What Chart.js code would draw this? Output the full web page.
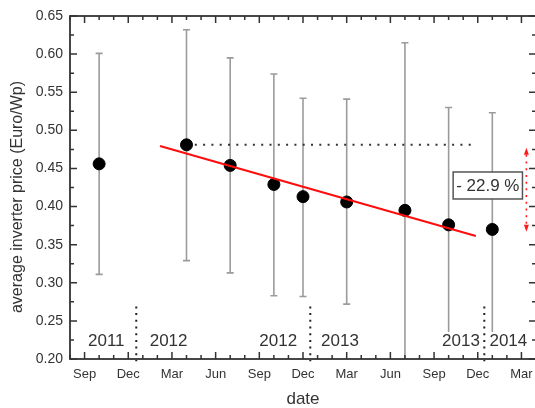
<!DOCTYPE html>
<html>
<head>
<meta charset="utf-8">
<script src="https://cdn.jsdelivr.net/npm/chart.js@4.4.0/dist/chart.umd.min.js"></script>
<style>
  html, body { margin: 0; padding: 0; background: #fff; overflow: hidden; width: 535px; height: 408px; }
  canvas { display: block; }
</style>
</head>
<body>
<canvas id="c" width="538" height="408"></canvas>
<script>
// ---- data (x = months counted from Jan 2011 = 0) ----
const monthNames = ['Jan','Feb','Mar','Apr','May','Jun','Jul','Aug','Sep','Oct','Nov','Dec'];
const labelledMonths = ['Sep','Dec','Mar','Jun'];
const months   = [9, 15, 18, 21, 23, 26, 30, 33, 36];
const price    = [0.456, 0.481, 0.454, 0.429, 0.413, 0.406, 0.395, 0.376, 0.370];
const errHigh  = [0.601, 0.632, 0.595, 0.574, 0.542, 0.541, 0.615, 0.530, 0.523];
const errLow   = [0.311, 0.329, 0.313, 0.283, 0.282, 0.272, 0.170, 0.222, 0.222];
const fitMonths = [13.18, 34.87];
const fitPrice  = [0.4795, 0.3614];
const refMonths = [15, 34.57];
const refPrice  = 0.481;
const yearBreaks = [11.55, 23.5, 35.45];
const breakRange = [0.269, 0.197];
const yearLabels = ['2011', '2012', '2012', '2013', '2013', '2014'];
const yearLabelMonths = [9.49, 13.77, 21.3, 25.54, 33.85, 37.1];
const yearLabelPrice = 0.2249;
const changeText = '- 22.9 %';
const changeAt = [35.69, 0.4283];
const arrowMonth = 38.34;
const arrowRange = [0.477, 0.367];
const yTickLabels = ['0.20','0.25','0.30','0.35','0.40','0.45','0.50','0.55','0.60','0.65'];
const xTitle = 'date';
const yTitle = 'average inverter price (Euro/Wp)';

const FONT = "'Liberation Sans', Arial, sans-serif";
const TXT = '#333';

const overlay = {
  id: 'overlay',
  beforeDatasetsDraw(chart) {
    const {ctx, chartArea: a, scales: {x, y}} = chart;
    ctx.save();
    ctx.beginPath(); ctx.rect(a.left, a.top, a.width, a.height); ctx.clip();
    ctx.strokeStyle = '#9b9b9b'; ctx.lineWidth = 1.6;
    for (let i = 0; i < months.length; i++) {
      const px = x.getPixelForValue(months[i]);
      const hi = y.getPixelForValue(errHigh[i]);
      const lo = y.getPixelForValue(errLow[i]);
      ctx.beginPath(); ctx.moveTo(px, hi); ctx.lineTo(px, lo); ctx.stroke();
      ctx.beginPath(); ctx.moveTo(px - 3.5, hi); ctx.lineTo(px + 3.5, hi);
      ctx.moveTo(px - 3.5, lo); ctx.lineTo(px + 3.5, lo); ctx.stroke();
    }
    ctx.restore();
  },
  afterDatasetsDraw(chart) {
    const {ctx, chartArea: a, scales: {x, y}} = chart;
    ctx.save();
    // year labels with white background
    ctx.font = '17px ' + FONT;
    ctx.textAlign = 'center'; ctx.textBaseline = 'middle';
    yearLabels.forEach((t, i) => {
      const px = x.getPixelForValue(yearLabelMonths[i]);
      const py = y.getPixelForValue(yearLabelPrice);
      const w = ctx.measureText(t).width;
      ctx.fillStyle = '#fff';
      ctx.fillRect(px - w / 2 - 1, py - 8, w + 2, 16);
      ctx.fillStyle = TXT;
      ctx.fillText(t, px, py + 1);
    });
    // year separators (dotted)
    ctx.strokeStyle = '#222'; ctx.lineWidth = 2; ctx.setLineDash([2, 4.7]);
    yearBreaks.forEach(m => {
      const px = x.getPixelForValue(m);
      ctx.beginPath();
      ctx.moveTo(px, y.getPixelForValue(breakRange[0]));
      ctx.lineTo(px, y.getPixelForValue(breakRange[1]));
      ctx.stroke();
    });
    ctx.setLineDash([]);
    // change box
    const bx = x.getPixelForValue(changeAt[0]);
    const by = y.getPixelForValue(changeAt[1]);
    ctx.font = '17px ' + FONT;
    const tw = ctx.measureText(changeText).width;
    ctx.fillStyle = '#fff';
    ctx.fillRect(bx - tw / 2 - 3, by - 13, tw + 6, 27);
    ctx.strokeStyle = '#555'; ctx.lineWidth = 1.5;
    ctx.strokeRect(bx - tw / 2 - 3, by - 13, tw + 6, 27);
    ctx.fillStyle = TXT;
    ctx.fillText(changeText, bx, by + 1);
    // red dotted double arrow
    const ax = x.getPixelForValue(arrowMonth);
    const at = y.getPixelForValue(arrowRange[0]);
    const ab = y.getPixelForValue(arrowRange[1]);
    ctx.strokeStyle = '#ff1a1a'; ctx.fillStyle = '#ff1a1a'; ctx.lineWidth = 1.6;
    ctx.setLineDash([2, 4.7]);
    ctx.beginPath(); ctx.moveTo(ax, at + 7); ctx.lineTo(ax, ab - 7); ctx.stroke();
    ctx.setLineDash([]);
    ctx.beginPath(); ctx.moveTo(ax, at); ctx.lineTo(ax - 2.5, at + 7); ctx.lineTo(ax + 2.5, at + 7); ctx.closePath(); ctx.fill();
    ctx.beginPath(); ctx.moveTo(ax, ab); ctx.lineTo(ax - 2.5, ab - 7); ctx.lineTo(ax + 2.5, ab - 7); ctx.closePath(); ctx.fill();
    ctx.restore();
  },
  afterDraw(chart) {
    const {ctx, chartArea: a, scales: {x, y}} = chart;
    ctx.save();
    ctx.strokeStyle = '#333'; ctx.lineWidth = 1.5;
    ctx.beginPath();
    x.ticks.forEach((t, i) => {
      const px = x.getPixelForTick(i);
      const major = labelledMonths.includes(monthNames[((t.value % 12) + 12) % 12]);
      const len = major ? 7 : 4;
      ctx.moveTo(px, a.bottom); ctx.lineTo(px, a.bottom - len);
      ctx.moveTo(px, a.top); ctx.lineTo(px, a.top + len);
    });
    y.ticks.forEach((t, i) => {
      const py = y.getPixelForTick(i);
      ctx.moveTo(a.left, py); ctx.lineTo(a.left + 7, py);
      ctx.moveTo(a.right, py); ctx.lineTo(a.right - 7, py);
      if (i < y.ticks.length - 1) {
        const pm = (py + y.getPixelForTick(i + 1)) / 2;
        ctx.moveTo(a.left, pm); ctx.lineTo(a.left + 4, pm);
        ctx.moveTo(a.right, pm); ctx.lineTo(a.right - 4, pm);
      }
    });
    ctx.stroke();
    ctx.lineWidth = 1.8;
    ctx.strokeRect(a.left, a.top, a.right - a.left, a.bottom - a.top);
    // y axis title
    ctx.fillStyle = TXT;
    ctx.font = '16px ' + FONT;
    ctx.textAlign = 'center'; ctx.textBaseline = 'middle';
    ctx.translate(18, 197);
    ctx.rotate(-Math.PI / 2);
    ctx.fillText(yTitle, 0, 0);
    ctx.restore();
  }
};

new Chart(document.getElementById('c'), {
  type: 'scatter',
  data: {
    datasets: [
      {
        label: 'fit', type: 'line', order: 0,
        data: fitMonths.map((m, i) => ({x: m, y: fitPrice[i]})),
        borderColor: '#ff0d0d', borderWidth: 2, pointRadius: 0, fill: false
      },
      {
        label: 'price', order: 1,
        data: months.map((m, i) => ({x: m, y: price[i]})),
        pointRadius: 6, pointBackgroundColor: '#000', pointBorderColor: '#000', pointHoverRadius: 6
      },
      {
        label: 'ref', type: 'line', order: 2,
        data: refMonths.map(m => ({x: m, y: refPrice})),
        borderColor: '#333', borderWidth: 2, borderDash: [2, 6.3], pointRadius: 0, fill: false
      }
    ]
  },
  options: {
    responsive: false,
    animation: false,
    devicePixelRatio: 1,
    layout: { autoPadding: false, padding: { top: 16, right: 2, bottom: 0, left: 0 } },
    plugins: { legend: { display: false }, tooltip: { enabled: false } },
    scales: {
      x: {
        type: 'linear', min: 7, max: 39,
        afterFit(s) { s.height = 49; s.paddingLeft = 0; s.paddingRight = 0; },
        grid: { display: false, drawTicks: false },
        border: { display: false },
        ticks: {
          stepSize: 1, autoSkip: false, maxRotation: 0, padding: 8,
          color: TXT, font: { family: FONT, size: 13 },
          callback(v) {
            const n = monthNames[((v % 12) + 12) % 12];
            return labelledMonths.includes(n) ? n : '';
          }
        },
        title: { display: true, text: xTitle, color: TXT, font: { family: FONT, size: 17, lineHeight: 1 }, padding: { top: 0, bottom: 0 } }
      },
      y: {
        min: 0.2, max: 0.65,
        afterFit(s) { s.width = 70; s.paddingTop = 0; s.paddingBottom = 0; },
        grid: { display: false, drawTicks: false },
        border: { display: false },
        ticks: {
          stepSize: 0.05, padding: 7, color: TXT, font: { family: FONT, size: 14 },
          callback(v) { const k = Math.round((v - 0.2) / 0.05); return yTickLabels[k] !== undefined ? yTickLabels[k] : ''; }
        },
        title: { display: false }
      }
    }
  },
  plugins: [overlay]
});
</script>
</body>
</html>
